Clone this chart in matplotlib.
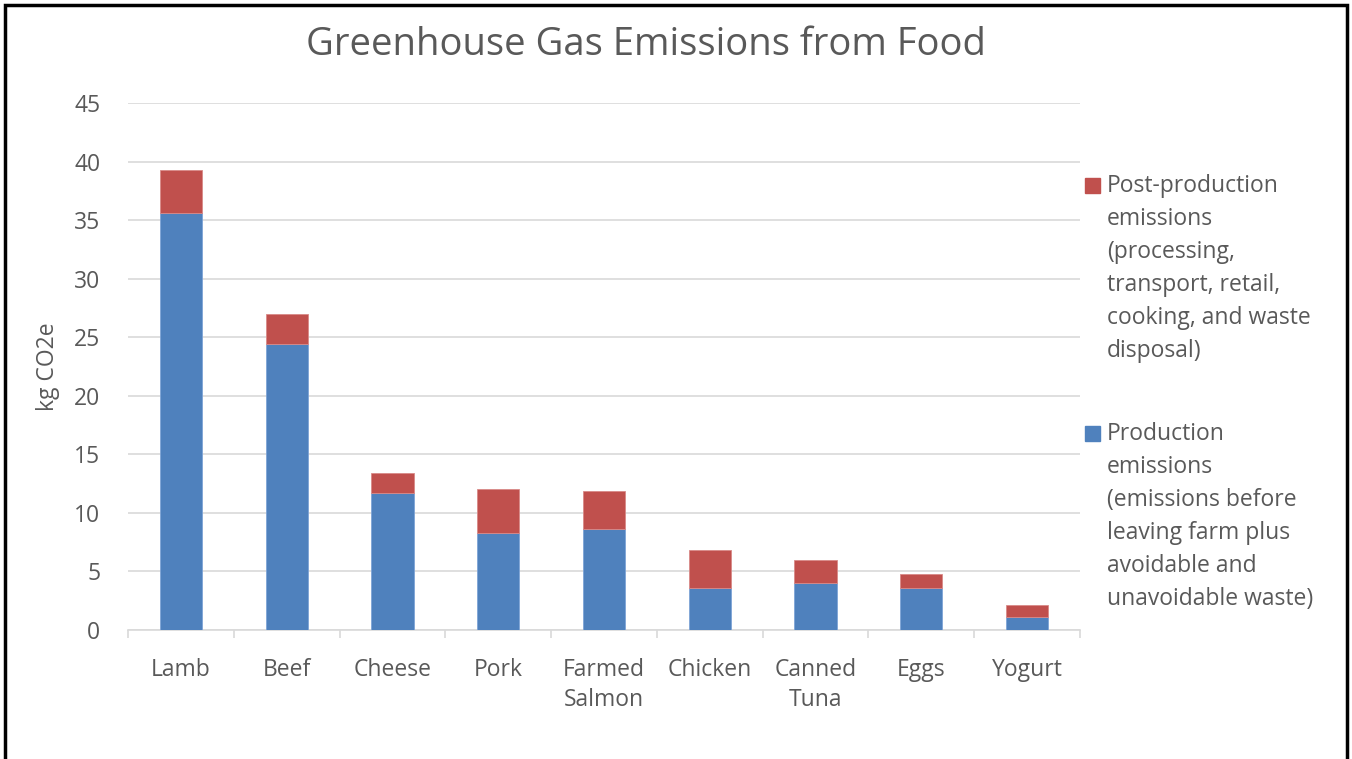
import numpy as np
import matplotlib.pyplot as plt
from matplotlib.patches import Rectangle

# data (kg CO2e)
foods = ['Lamb', 'Beef', 'Cheese', 'Pork', 'Farmed\nSalmon', 'Chicken',
         'Canned\nTuna', 'Eggs', 'Yogurt']
production = [35.6, 24.4, 11.7, 8.3, 8.6, 3.55, 4.05, 3.56, 1.1]
post_production = [3.7, 2.55, 1.7, 3.75, 3.3, 3.3, 1.95, 1.24, 1.0]

lab_post = ('Post-production\nemissions\n(processing,\ntransport, retail,\n'
            'cooking, and waste\ndisposal)')
lab_prod = ('Production\nemissions\n(emissions before\nleaving farm plus\n'
            'avoidable and\nunavoidable waste)')

blue = '#4f81bd'
red = '#c0504d'
grey = '#595959'
plt.rcParams['font.family'] = ['Open Sans', 'DejaVu Sans']

W, H = 1352, 759
fig = plt.figure(figsize=(W/100, H/100), dpi=100)
ax = fig.add_axes([128/W, 1-630/H, (1080-128)/W, (630-103)/H])

x = np.arange(len(foods))
b1 = ax.bar(x, production, 0.4, color=blue, edgecolor='#7ea4d6', linewidth=0.6,
            zorder=3)
b2 = ax.bar(x, post_production, 0.4, bottom=production, color=red,
            edgecolor='#d98a88', linewidth=0.6, zorder=3)

ax.set_xlim(-0.5, len(foods)-0.5)
ax.set_ylim(0, 45)
ax.set_yticks(np.arange(0, 46, 5))
ax.yaxis.grid(True, color='#d9d9d9', linewidth=1.2, zorder=0)
ax.set_axisbelow(True)
for s in ['top', 'right', 'left']:
    ax.spines[s].set_visible(False)
ax.spines['bottom'].set_color('#d9d9d9')
ax.spines['bottom'].set_linewidth(1.2)
ax.tick_params(axis='y', length=0, pad=20, labelsize=16.5, labelcolor=grey)
ax.set_xticks(np.arange(-0.5, len(foods), 1.0), minor=False)
ax.set_xticklabels([])
ax.tick_params(axis='x', which='major', length=6, color='#d9d9d9', width=1.2)
ax.set_xticks(x, minor=True)
ax.set_xticklabels(foods, minor=True, fontsize=16.5, color=grey, linespacing=1.35)
ax.tick_params(axis='x', which='minor', length=0, pad=20)
ax.set_ylabel('kg CO2e', fontsize=16.5, color=grey, labelpad=10)

fig.text(646/W, 1-45/H, 'Greenhouse Gas Emissions from Food', fontsize=27.5,
         color=grey, ha='center', va='center')

# legend drawn by hand so the swatch sits on the first text line
for lab, col, ytop in [(lab_post, red, 174), (lab_prod, blue, 422)]:
    fig.patches.append(Rectangle((1085/W, 1-193/H + (174-ytop)/H), 15/W, 15/H,
                                 transform=fig.transFigure, color=col))
    fig.text(1107/W, 1-ytop/H, lab, fontsize=16.5, color=grey,
             ha='left', va='top', linespacing=1.5)

fig.patches.append(Rectangle((5/W, -0.05), 1-10/W, 1.05-5/H,
                             transform=fig.transFigure, fill=False,
                             edgecolor='black', linewidth=2.5))

fig.savefig('out.png', dpi=100)
